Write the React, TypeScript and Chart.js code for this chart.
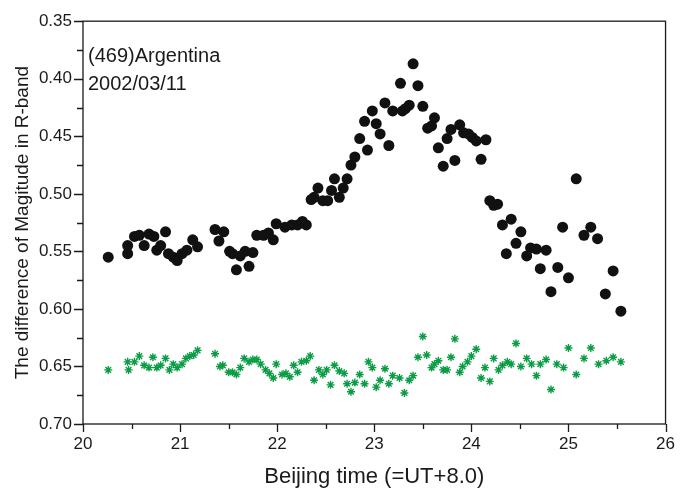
import React, { useEffect, useRef } from "react";
import { Chart, registerables } from "chart.js";

Chart.register(...registerables);

// ---- data ----
const blackX = [
  20.26, 20.46, 20.46, 20.53, 20.58, 20.63, 20.68, 20.73, 20.76, 20.80,
  20.85, 20.88, 20.93, 20.97, 21.02, 21.07, 21.13, 21.18, 21.36, 21.40,
  21.45, 21.51, 21.54, 21.58, 21.62, 21.67, 21.71, 21.75, 21.79, 21.86,
  21.91, 21.96, 21.99, 22.08, 22.15, 22.21, 22.26, 22.30, 22.35, 22.38,
  22.42, 22.47, 22.52, 22.56, 22.59, 22.64, 22.68, 22.72, 22.76, 22.80,
  22.85, 22.93, 22.90, 22.98, 23.02, 23.06, 23.11, 23.15, 23.19, 23.27,
  23.29, 23.32, 23.36, 23.40, 23.45, 23.50, 23.55, 23.59, 23.62, 23.66,
  23.71, 23.75, 23.79, 23.83, 23.88, 23.92, 23.97, 24.01, 24.05, 24.10,
  24.15, 24.19, 24.23, 24.27, 24.32, 24.36, 24.41, 24.46, 24.51, 24.57,
  24.61, 24.67, 24.71, 24.77, 24.82, 24.89, 24.94, 25.00, 25.08, 25.16,
  25.23, 25.30, 25.38, 25.46, 25.54,
];
const blackY = [
  0.555, 0.552, 0.545, 0.537, 0.536, 0.545, 0.535, 0.537, 0.549, 0.545,
  0.533, 0.552, 0.555, 0.558, 0.552, 0.549, 0.540, 0.546, 0.531, 0.541,
  0.533, 0.550, 0.552, 0.566, 0.554, 0.550, 0.563, 0.551, 0.536, 0.536,
  0.534, 0.540, 0.526, 0.529, 0.527, 0.527, 0.524, 0.527, 0.505, 0.503,
  0.495, 0.506, 0.506, 0.497, 0.487, 0.503, 0.495, 0.487, 0.475, 0.468,
  0.452, 0.462, 0.437, 0.428, 0.439, 0.448, 0.421, 0.458, 0.428, 0.404,
  0.428, 0.426, 0.423, 0.387, 0.406, 0.424, 0.443, 0.441, 0.434, 0.460,
  0.476, 0.452, 0.444, 0.471, 0.440, 0.447, 0.448, 0.451, 0.454, 0.470,
  0.453, 0.506, 0.510, 0.509, 0.527, 0.552, 0.522, 0.543, 0.533, 0.554,
  0.547, 0.548, 0.565, 0.549, 0.585, 0.564, 0.529, 0.573, 0.487, 0.536,
  0.529, 0.539, 0.587, 0.567, 0.602,
];
const greenX = [
  20.26, 20.46, 20.47, 20.53, 20.58, 20.63, 20.68, 20.72, 20.76, 20.80,
  20.85, 20.89, 20.93, 20.97, 21.02, 21.06, 21.10, 21.14, 21.18, 21.36,
  21.41, 21.44, 21.50, 21.54, 21.58, 21.62, 21.66, 21.71, 21.75, 21.79,
  21.83, 21.88, 21.92, 21.96, 21.99, 22.05, 22.09, 22.13, 22.17, 22.21,
  22.25, 22.30, 22.34, 22.38, 22.43, 22.47, 22.51, 22.55, 22.59, 22.64,
  22.69, 22.72, 22.76, 22.80, 22.85, 22.90, 22.94, 22.98, 23.02, 23.06,
  23.11, 23.15, 23.19, 23.26, 23.31, 23.36, 23.40, 23.45, 23.50, 23.54,
  23.59, 23.62, 23.66, 23.71, 23.75, 23.79, 23.83, 23.88, 23.91, 23.96,
  24.00, 24.05, 24.10, 24.14, 24.19, 24.23, 24.28, 24.32, 24.37, 24.41,
  24.46, 24.51, 24.57, 24.62, 24.67, 24.71, 24.77, 24.82, 24.88, 24.95,
  25.00, 25.08, 25.16, 25.23, 25.31, 25.39, 25.46, 25.54,
];
const greenY = [
  0.653, 0.646, 0.653, 0.646, 0.641, 0.649, 0.651, 0.642, 0.651, 0.649,
  0.643, 0.653, 0.648, 0.651, 0.648, 0.643, 0.641, 0.640, 0.636, 0.639,
  0.650, 0.649, 0.655, 0.655, 0.657, 0.651, 0.643, 0.646, 0.644, 0.644,
  0.648, 0.653, 0.656, 0.660, 0.648, 0.657, 0.656, 0.659, 0.649, 0.655,
  0.646, 0.645, 0.641, 0.662, 0.653, 0.657, 0.653, 0.666, 0.649, 0.654,
  0.656, 0.665, 0.672, 0.664, 0.657, 0.665, 0.646, 0.651, 0.668, 0.662,
  0.652, 0.665, 0.658, 0.660, 0.673, 0.662, 0.658, 0.642, 0.624, 0.640,
  0.651, 0.648, 0.645, 0.653, 0.653, 0.642, 0.626, 0.655, 0.650, 0.646,
  0.641, 0.635, 0.660, 0.651, 0.663, 0.643, 0.653, 0.649, 0.646, 0.648,
  0.630, 0.650, 0.643, 0.648, 0.658, 0.648, 0.644, 0.670, 0.648, 0.651,
  0.634, 0.657, 0.643, 0.634, 0.648, 0.645, 0.642, 0.646,
];

const xTicks = [20, 21, 22, 23, 24, 25, 26];
const xMinorTicks = [20.5, 21.5, 22.5, 23.5, 24.5, 25.5];
const yTicks = [0.35, 0.4, 0.45, 0.5, 0.55, 0.6, 0.65, 0.7];
const yMinorTicks = [0.375, 0.425, 0.475, 0.525, 0.575, 0.625, 0.675];

const objectName = "(469)Argentina";
const obsDate = "2002/03/11";
const xTitle = "Beijing time (=UT+8.0)";
const yTitle = "The difference of Magitude in R-band";

const FONT = '"Liberation Sans", Arial, Helvetica, sans-serif';
const INK = "#1a1a1a";

const decorPlugin = {
  id: "decor",
  afterDraw(chart: any) {
    const { ctx, chartArea: a, scales } = chart;
    const xs = scales.x;
    const ys = scales.y;
    ctx.save();
    ctx.strokeStyle = INK;
    ctx.lineWidth = 1.3;
    ctx.strokeRect(a.left, a.top, a.right - a.left, a.bottom - a.top);
    ctx.beginPath();
    for (const v of xTicks) {
      const p = Math.round(xs.getPixelForValue(v)) + 0.5;
      ctx.moveTo(p, a.bottom);
      ctx.lineTo(p, a.bottom + 8);
    }
    for (const v of xMinorTicks) {
      const p = Math.round(xs.getPixelForValue(v)) + 0.5;
      ctx.moveTo(p, a.bottom);
      ctx.lineTo(p, a.bottom + 5);
    }
    for (const v of yTicks) {
      const p = Math.round(ys.getPixelForValue(v)) + 0.5;
      ctx.moveTo(a.left, p);
      ctx.lineTo(a.left - 9, p);
    }
    for (const v of yMinorTicks) {
      const p = Math.round(ys.getPixelForValue(v)) + 0.5;
      ctx.moveTo(a.left, p);
      ctx.lineTo(a.left - 6, p);
    }
    ctx.stroke();
    ctx.fillStyle = INK;
    ctx.font = `20px ${FONT}`;
    ctx.textAlign = "left";
    ctx.textBaseline = "alphabetic";
    ctx.fillText(objectName, a.left + 5, a.top + 41);
    ctx.fillText(obsDate, a.left + 5, a.top + 69);
    ctx.restore();
  },
};

export default function App() {
  const ref = useRef<HTMLCanvasElement | null>(null);
  useEffect(() => {
    if (!ref.current) return;
    const chart = new Chart(ref.current, {
      type: "scatter",
      data: {
        datasets: [
          {
            label: "asteroid",
            data: blackX.map((x, i) => ({ x, y: blackY[i] })),
            pointStyle: "circle",
            pointRadius: 5.5,
            pointHoverRadius: 5.5,
            backgroundColor: "#111111",
            borderColor: "#111111",
            borderWidth: 0,
          },
          {
            label: "comparison",
            data: greenX.map((x, i) => ({ x, y: greenY[i] })),
            pointStyle: "star",
            pointRadius: 4,
            pointHoverRadius: 4,
            backgroundColor: "#0b9d45",
            borderColor: "#0b9d45",
            borderWidth: 1.4,
          },
        ],
      },
      options: {
        responsive: false,
        animation: false,
        devicePixelRatio: 1,
        layout: { padding: { top: 14, right: 9, left: 0, bottom: 0 } },
        plugins: {
          legend: { display: false },
          tooltip: { enabled: false },
        },
        scales: {
          x: {
            type: "linear",
            min: 20,
            max: 26,
            grid: { display: false, drawTicks: false },
            border: { display: false },
            afterBuildTicks: (scale: any) => {
              scale.ticks = xTicks.map((v) => ({ value: v }));
            },
            afterFit: (scale: any) => {
              scale.height = 71;
            },
            ticks: {
              padding: 10,
              color: INK,
              font: { family: FONT, size: 17 },
              maxRotation: 0,
              callback: (v: any) => String(v),
            },
            title: {
              display: true,
              text: xTitle,
              color: INK,
              font: { family: FONT, size: 22 },
              padding: { top: 0, bottom: 5 },
            },
          },
          y: {
            type: "linear",
            reverse: true,
            min: 0.35,
            max: 0.7,
            grid: { display: false, drawTicks: false },
            border: { display: false },
            afterBuildTicks: (scale: any) => {
              scale.ticks = yTicks.map((v) => ({ value: v }));
            },
            afterFit: (scale: any) => {
              scale.width = 83;
            },
            ticks: {
              padding: 11,
              color: INK,
              font: { family: FONT, size: 17 },
              callback: (v: any) => Number(v).toFixed(2),
            },
            title: {
              display: true,
              text: yTitle,
              color: INK,
              font: { family: FONT, size: 19 },
              padding: { top: 11, bottom: 0 },
            },
          },
        },
      },
      plugins: [decorPlugin],
    });
    return () => chart.destroy();
  }, []);

  return (
    <div style={{ position: "absolute", left: 0, top: 0, width: 685, height: 495, background: "#fff" }}>
      <canvas ref={ref} width={685} height={495} style={{ display: "block" }} />
    </div>
  );
}
